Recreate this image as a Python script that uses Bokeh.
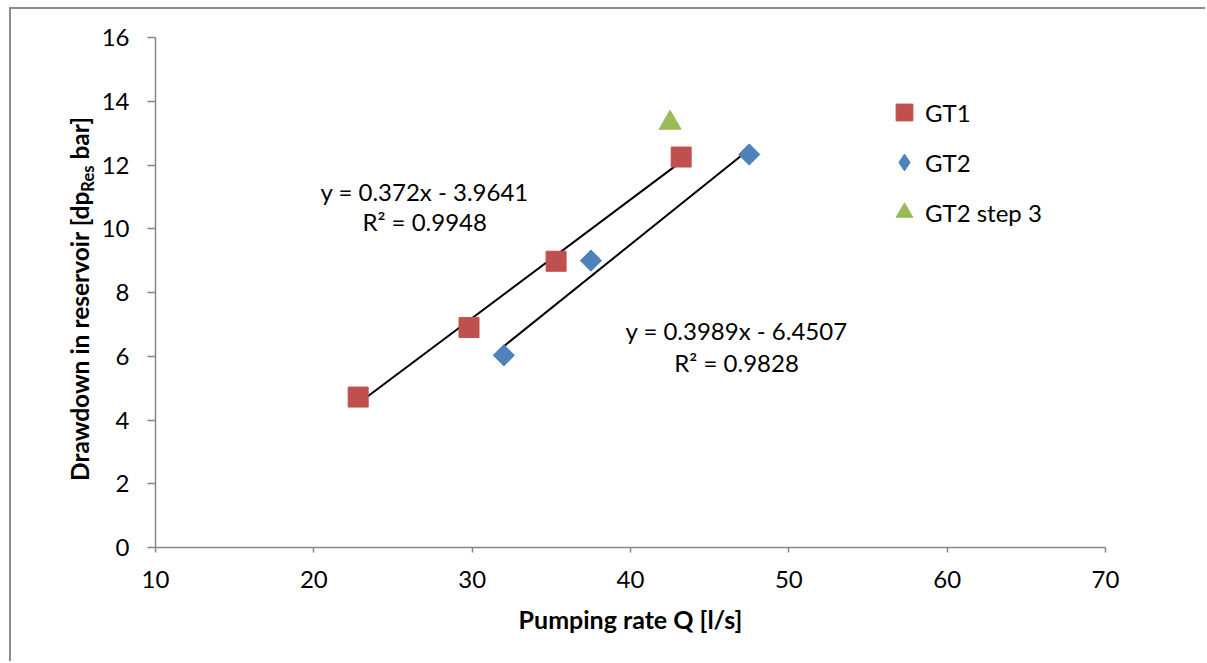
import math
from bokeh.plotting import figure
from bokeh.layouts import row
from bokeh.models import Legend, LegendItem, Label, FixedTicker, Div
from bokeh.embed import file_html
from bokeh.resources import INLINE

# ---- data ----
gt1_q = [22.8, 29.8, 35.3, 43.2]
gt1_dp = [4.72, 6.9, 8.98, 12.25]
gt2_q = [32.0, 37.5, 47.5]
gt2_dp = [6.03, 9.0, 12.33]
gt2s3_q = [42.5]
gt2s3_dp = [13.32]

fit_slope = [0.372, 0.3989]
fit_icpt = [-3.9641, -6.4507]
fit_eq = ["y = 0.372x - 3.9641", "y = 0.3989x - 6.4507"]
fit_r2 = ["R\u00b2 = 0.9948", "R\u00b2 = 0.9828"]
eq_pos_x = [27.0, 46.7]
eq_pos_y = [11.17, 6.81]
r2_pos_y = [10.23, 5.80]

x_ticks = [10, 20, 30, 40, 50, 60, 70]
y_ticks = [0, 2, 4, 6, 8, 10, 12, 14, 16]
ylab_parts = ["Drawdown in reservoir [dp", "Res", " bar]"]

FONT = "Lato"
FS = "24px"
FSB = "25px"
AX = "#868686"
DIV_W = 86

p = figure(width=1194 - DIV_W, height=652, x_range=(10, 70), y_range=(0, 16),
           output_backend="svg", toolbar_location=None,
           min_border_left=144 - DIV_W, min_border_right=100,
           min_border_top=28, min_border_bottom=114)
p.outline_line_color = None
p.xgrid.visible = False
p.ygrid.visible = False

for ax in (p.xaxis[0], p.yaxis[0]):
    ax.axis_line_color = AX
    ax.axis_line_width = 1.5
    ax.major_tick_line_color = AX
    ax.major_tick_line_width = 1.5
    ax.minor_tick_line_color = None
    ax.major_tick_in = 0
    ax.major_label_text_font = FONT
    ax.major_label_text_font_size = FS
    ax.major_label_text_color = "black"

p.xaxis.ticker = FixedTicker(ticks=x_ticks)
p.yaxis.ticker = FixedTicker(ticks=y_ticks)
p.xaxis.major_tick_out = 5
p.yaxis.major_tick_out = 8
p.xaxis.major_label_standoff = 18
p.yaxis.major_label_standoff = 18

p.xaxis.axis_label = "Pumping rate Q [l/s]"
p.xaxis.axis_label_text_font = FONT
p.xaxis.axis_label_text_font_size = FSB
p.xaxis.axis_label_text_font_style = "bold"
p.xaxis.axis_label_text_color = "black"
p.xaxis.axis_label_standoff = 13

# trendlines
for xs, sl, ic in ((gt1_q, fit_slope[0], fit_icpt[0]), (gt2_q, fit_slope[1], fit_icpt[1])):
    x0, x1 = min(xs), max(xs)
    p.line([x0, x1], [sl * x0 + ic, sl * x1 + ic], line_color="black", line_width=2)

r1 = p.scatter(gt1_q, gt1_dp, marker="square", size=20, fill_color="#C0504D",
               line_color="#C0504D", line_width=1)
# legend proxy for GT2 (hidden beneath the rotated squares)
r2_leg = p.scatter(gt2_q, gt2_dp, marker="diamond", size=20, fill_color="#4F81BD",
                   line_color="#4F81BD", line_width=1)
p.scatter(gt2_q, gt2_dp, marker="square", angle=math.pi / 4, size=15,
          fill_color="#4F81BD", line_color="#4F81BD", line_width=1)
r3 = p.scatter(gt2s3_q, gt2s3_dp, marker="triangle", size=22, fill_color="#9BBB59",
               line_color="#9BBB59", line_width=1)

legend = Legend(items=[LegendItem(label="GT1", renderers=[r1]),
                       LegendItem(label="GT2", renderers=[r2_leg]),
                       LegendItem(label="GT2 step 3", renderers=[r3])],
                location=(728, 310), orientation="vertical",
                label_text_font=FONT, label_text_font_size=FS,
                label_text_color="black", glyph_width=42, glyph_height=50,
                label_height=50, spacing=0, label_standoff=0, padding=0,
                margin=0, border_line_color=None, background_fill_alpha=0)
p.add_layout(legend)

# equations
for i in range(2):
    p.add_layout(Label(x=eq_pos_x[i], y=eq_pos_y[i], text=fit_eq[i], text_font=FONT,
                       text_font_size=FS, text_align="center", text_baseline="middle",
                       text_color="black"))
    p.add_layout(Label(x=eq_pos_x[i], y=r2_pos_y[i], text=fit_r2[i], text_font=FONT,
                       text_font_size=FS, text_align="center", text_baseline="middle",
                       text_color="black"))

# y-axis label with subscript as rotated HTML text
ylab_html = (
    '<div style="position:absolute; left:71px; top:290px; '
    'transform:translate(-50%,-50%) rotate(-90deg); white-space:nowrap; '
    'font-family:Lato; font-weight:bold; font-size:24.5px; line-height:1.2; color:black;">'
    f'{ylab_parts[0]}<sub style="font-size:16.5px; vertical-align:-5px;">{ylab_parts[1]}</sub>'
    f'{ylab_parts[2]}</div>'
)
ydiv = Div(text=ylab_html, width=DIV_W, height=652, margin=0,
           styles={"position": "relative", "overflow": "visible"})

layout = row(ydiv, p, spacing=0)
layout.styles = {"border-left": "2px solid #8c8c8c", "border-top": "2px solid #8c8c8c",
                 "margin-left": "9px", "margin-top": "7px"}

open("out.html", "w").write(file_html(layout, INLINE))
